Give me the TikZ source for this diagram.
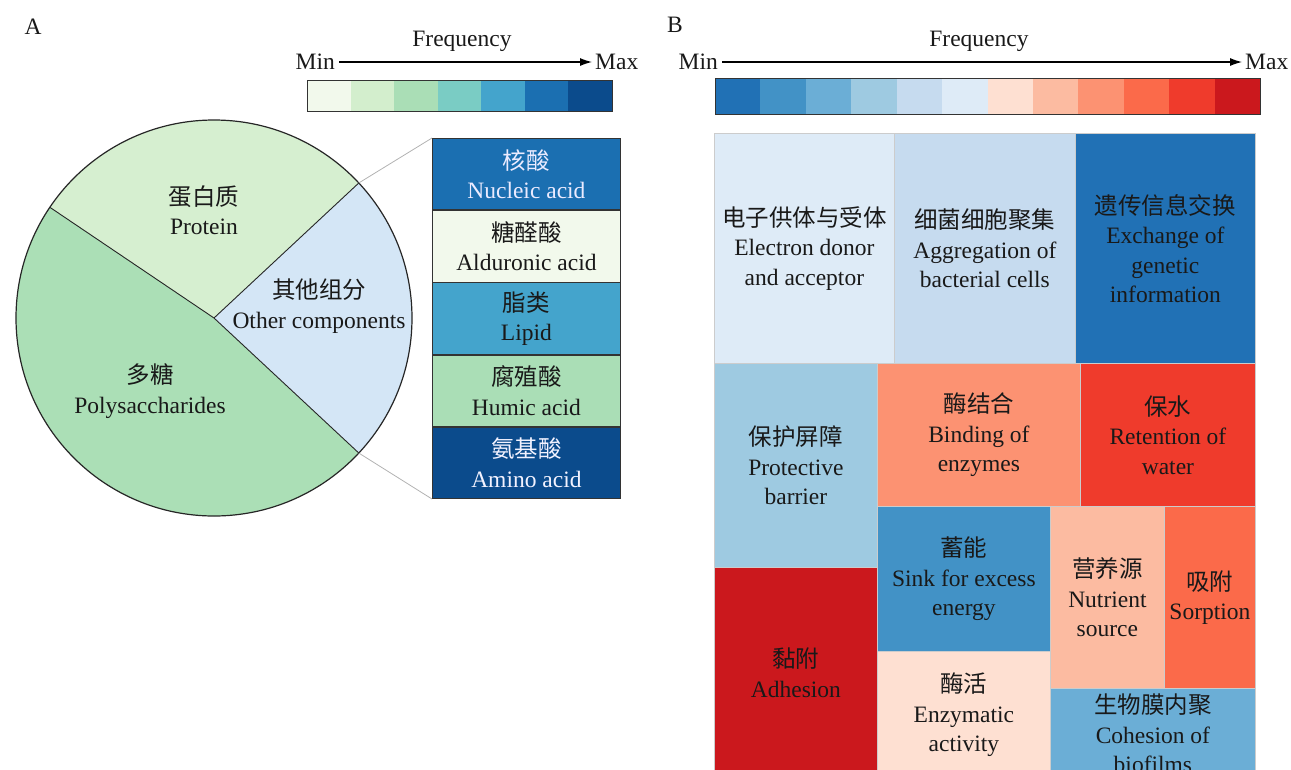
\documentclass[tikz,border=0pt]{standalone}
\usepackage{fontspec}
\setmainfont{Liberation Serif}
\newfontfamily\cjk{Noto Sans CJK SC}
\usetikzlibrary{positioning,arrows.meta}

% panel A colours
\definecolor{gn1}{HTML}{F2F9EC}
\definecolor{gn2}{HTML}{D3EECD}
\definecolor{gn3}{HTML}{AADEB6}
\definecolor{gn4}{HTML}{7ACCC4}
\definecolor{gn5}{HTML}{44A4CC}
\definecolor{gn6}{HTML}{1B6FB1}
\definecolor{gn7}{HTML}{0B4B8C}
\definecolor{protein}{HTML}{D6EFD0}
\definecolor{polysac}{HTML}{ABDFB6}
\definecolor{others}{HTML}{D4E6F6}
% panel B colours
\definecolor{rb1}{HTML}{2171B5}
\definecolor{rb2}{HTML}{4292C6}
\definecolor{rb3}{HTML}{6BAED6}
\definecolor{rb4}{HTML}{9ECAE1}
\definecolor{rb5}{HTML}{C6DBEF}
\definecolor{rb6}{HTML}{DEEBF7}
\definecolor{rb7}{HTML}{FEE0D2}
\definecolor{rb8}{HTML}{FCBBA1}
\definecolor{rb9}{HTML}{FC9272}
\definecolor{rb10}{HTML}{FB6A4A}
\definecolor{rb11}{HTML}{EF3B2C}
\definecolor{rb12}{HTML}{CB181D}

\begin{document}
\begin{tikzpicture}[x=1pt, y=1pt, node distance=0pt,
font=\fontsize{23.5}{29.5}\selectfont,
txt/.style={inner sep=1pt, text=black!90, align=center},
scale arrow/.style={-{Latex[length=12pt, width=8pt]}, line width=1.1pt,
  shorten <=3pt, shorten >=2pt},
cellA/.style={minimum width=43.57pt, minimum height=31pt, inner sep=0pt, outer sep=0pt},
cellB/.style={minimum width=45.42pt, minimum height=36pt, inner sep=0pt, outer sep=0pt},
part/.style={draw=black!80, line width=0.8pt, minimum width=188pt, minimum height=71.4pt,
  inner sep=0pt, align=center, text=black!90},
tile/.style={draw=gray!40, line width=0.8pt, inner sep=0pt, anchor=north west,
  align=center, text=black!90},
zoomline/.style={gray!60, line width=0.8pt}]
\useasboundingbox (0,0) rectangle (1291,-769);
\clip (0,0) rectangle (1291,-769);

%% A
\node [txt] (labA) at (33,-27) {A};
\node [txt, anchor=east] (minA) at (336,-62) {Min};
\node [txt, anchor=west] (maxA) at (594,-62) {Max};
\draw [scale arrow] (minA) -- (maxA);
\node [txt] (freqA) at (462,-41) {Frequency};
\foreach \i in {1,...,7}
  \node [cellA, fill=gn\i, anchor=north west] (ca\i) at (307+43.57*\i-43.57,-80) {};
\draw [black!80, line width=0.9pt] (ca1.north west) rectangle (ca7.south east);

% pie
\coordinate (pc) at (214,-318);
\fill [protein] (pc) -- ++(43:198pt) arc[start angle=43, end angle=146, radius=198pt] -- cycle;
\fill [polysac] (pc) -- ++(146:198pt) arc[start angle=146, end angle=317, radius=198pt] -- cycle;
\fill [others] (pc) -- ++(-43:198pt) arc[start angle=-43, end angle=43, radius=198pt] -- cycle;
\path (pc) ++(43:198pt) coordinate (rimtop)
  (pc) ++(146:198pt) coordinate (rimleft)
  (pc) ++(-43:198pt) coordinate (rimbot);
\draw [black!85, line width=0.9pt] (pc) -- (rimtop) (pc) -- (rimleft) (pc) -- (rimbot);
\draw [black!85, line width=1.2pt] (pc) circle[radius=198pt];
\node [txt] (prot) at (204,-210) {{\cjk 蛋白质}\\Protein};
\node [txt] (other) at (319,-306) {{\cjk 其他组分}\\Other components};
\node [txt] (poly) at (150,-391) {{\cjk 多糖}\\Polysaccharides};

% other components
\node [part, fill=gn6, text=blue!8, anchor=north west] (nuc) at (432,-138) {{\cjk 核酸}\\Nucleic acid};
\node [part, fill=gn1] (ald) [below=of nuc] {{\cjk 糖醛酸}\\Alduronic acid};
\node [part, fill=gn5] (lip) [below=of ald] {{\cjk 脂类}\\Lipid};
\node [part, fill=gn3] (hum) [below=of lip] {{\cjk 腐殖酸}\\Humic acid};
\node [part, fill=gn7, text=blue!5] (amino) [below=of hum] {{\cjk 氨基酸}\\Amino acid};
\draw [zoomline] (rimtop) -- (nuc.north west);
\draw [zoomline] (rimbot) -- (amino.south west);

%% B
\node [txt] (labB) at (675,-25) {B};
\node [txt, anchor=east] (minB) at (719,-62) {Min};
\node [txt, anchor=west] (maxB) at (1244,-62) {Max};
\draw [scale arrow] (minB) -- (maxB);
\node [txt] (freqB) at (979,-41) {Frequency};
\foreach \i in {1,...,12}
  \node [cellB, fill=rb\i, anchor=north west] (cb\i) at (715+45.42*\i-45.42,-78) {};
\draw [black!80, line width=0.9pt] (cb1.north west) rectangle (cb12.south east);

% treemap
\node [tile, fill=rb6, minimum width=180pt, minimum height=230pt] (elec) at (714,-133)
  {{\cjk 电子供体与受体}\\Electron donor\\and acceptor};
\node [tile, fill=rb5, minimum width=181pt, minimum height=230pt] (aggr) at (894,-133)
  {{\cjk 细菌细胞聚集}\\Aggregation of\\bacterial cells};
\node [tile, fill=rb1, minimum width=180pt, minimum height=230pt] (exch) at (1075,-133)
  {{\cjk 遗传信息交换}\\Exchange of\\genetic\\information};
\node [tile, fill=rb4, minimum width=163pt, minimum height=204pt] (barr) at (714,-363)
  {{\cjk 保护屏障}\\Protective\\barrier};
\node [tile, fill=rb9, minimum width=203pt, minimum height=143pt] (bind) at (877,-363)
  {{\cjk 酶结合}\\Binding of\\enzymes};
\node [tile, fill=rb11, minimum width=175pt, minimum height=143pt] (water) at (1080,-363)
  {{\cjk 保水}\\Retention of\\water};
\node [tile, fill=rb2, minimum width=173pt, minimum height=145pt] (sink) at (877,-506)
  {{\cjk 蓄能}\\Sink for excess\\energy};
\node [tile, fill=rb8, minimum width=114pt, minimum height=182pt] (nutr) at (1050,-506)
  {{\cjk 营养源}\\Nutrient\\source};
\node [tile, fill=rb10, minimum width=91pt, minimum height=182pt] (sorp) at (1164,-506)
  {{\cjk 吸附}\\Sorption};
\node [tile, fill=rb12, minimum width=163pt, minimum height=211pt] (adh) at (714,-567)
  {{\cjk 黏附}\\Adhesion};
\node [tile, fill=rb7, minimum width=173pt, minimum height=127pt] (enz) at (877,-651)
  {{\cjk 酶活}\\Enzymatic\\activity};
\node [tile, fill=rb3, minimum width=205pt, minimum height=90pt] (coh) at (1050,-688)
  {{\cjk 生物膜内聚}\\Cohesion of\\biofilms};
\end{tikzpicture}
\end{document}
